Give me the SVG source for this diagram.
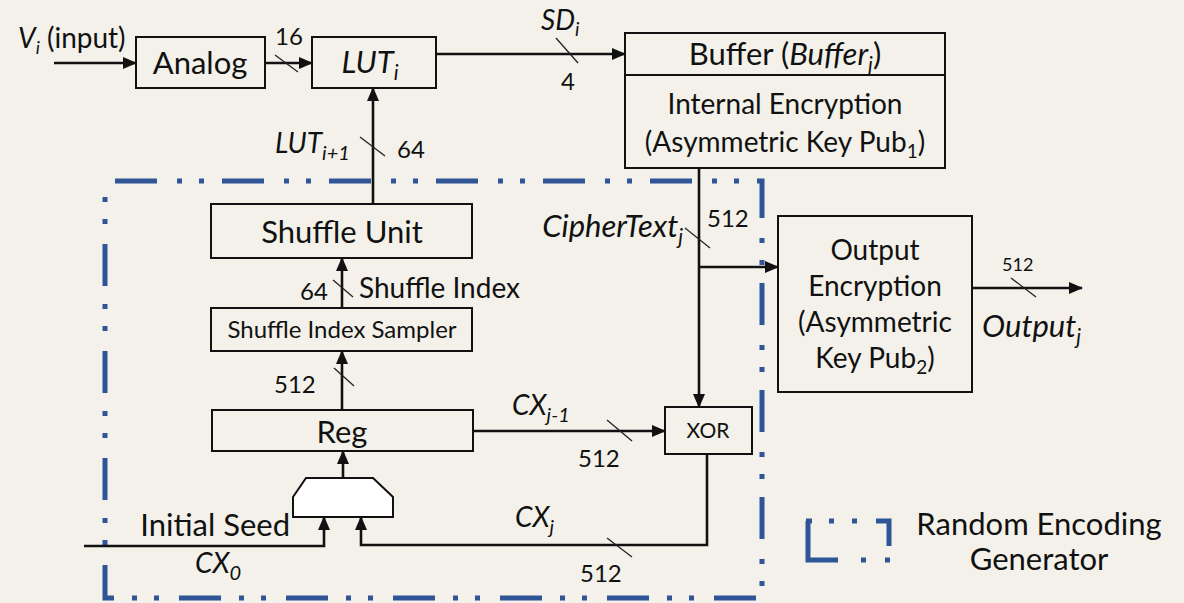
<svg xmlns="http://www.w3.org/2000/svg" width="1184" height="603" viewBox="0 0 1184 603">
<style>
.box{fill:none;stroke:#111;stroke-width:2}
.wbox{fill:#fff;stroke:#111;stroke-width:2}
.ln{fill:none;stroke:#111;stroke-width:2.6}
.sl{stroke:#222;stroke-width:1.3}
text{font-family:Lato,"Liberation Sans",sans-serif;fill:#111}
.n{font-size:24px}
.t{font-size:28px}
.big{font-size:31px}
.it{font-style:italic}
.c{text-anchor:middle}
.e{text-anchor:end}
.blue{fill:none;stroke:#2F5597;stroke-width:5}
</style>
<defs>
<marker id="ah" markerUnits="userSpaceOnUse" markerWidth="14" markerHeight="12" refX="13" refY="6" orient="auto">
<path d="M0,0 L14,6 L0,12 Z" fill="#111"/>
</marker>
</defs>
<rect width="1184" height="603" fill="#f3f1ea"/>

<g id="generator-frame">
<rect class="blue" x="105" y="181" width="657" height="417" stroke-dasharray="42 20 5 17 5 18" stroke-dashoffset="-10"/>
</g>

<g id="analog"><rect class="box" x="136" y="37" width="129" height="51"/><text class="big c" x="200" y="74">Analog</text></g>
<g id="lut"><rect class="box" x="312" y="37" width="124" height="51"/><text class="big c it" x="370" y="73">LUT<tspan font-size="21" dy="7">i</tspan></text></g>
<g id="buffer"><rect class="box" x="625" y="33" width="320" height="135"/><line class="box" x1="625" y1="75" x2="945" y2="75"/>
<text class="big c" x="785" y="65">Buffer (<tspan class="it">Buffer<tspan font-size="21" dy="7">j</tspan></tspan><tspan dy="-7">)</tspan></text>
<text class="t c" x="785" y="114">Internal Encryption</text>
<text class="t c" x="785" y="152">(Asymmetric Key Pub<tspan font-size="19" dy="6">1</tspan><tspan dy="-6">)</tspan></text></g>
<g id="shuffle-unit"><rect class="box" x="211" y="204" width="261" height="54"/><text class="big c" x="342" y="243">Shuffle Unit</text></g>
<g id="sampler"><rect class="box" x="211" y="308" width="261" height="43"/><text class="c" font-size="24" x="342" y="338">Shuffle Index Sampler</text></g>
<g id="reg"><rect class="box" x="212" y="410" width="261" height="41"/><text class="big c" x="342" y="443">Reg</text></g>
<g id="xor"><rect class="box" x="665" y="407" width="87" height="47"/><text class="c" font-size="21" x="708" y="438">XOR</text></g>
<g id="mux"><polygon class="wbox" points="306,478 373,478 393,497 393,517 293,517 293,497"/></g>
<g id="output-enc"><rect class="box" x="778" y="216" width="194" height="176"/>
<text class="t c" x="875" y="260">Output</text>
<text class="t c" x="875" y="296">Encryption</text>
<text class="t c" x="875" y="332">(Asymmetric</text>
<text class="t c" x="875" y="368">Key Pub<tspan font-size="19" dy="6">2</tspan><tspan dy="-6">)</tspan></text></g>

<g id="connectors">
<line class="ln" x1="54" y1="63" x2="136" y2="63" marker-end="url(#ah)"/>
<line class="ln" x1="265" y1="63" x2="312" y2="63" marker-end="url(#ah)"/>
<line class="ln" x1="436" y1="54" x2="625" y2="54" marker-end="url(#ah)"/>
<line class="ln" x1="373" y1="204" x2="373" y2="88" marker-end="url(#ah)"/>
<line class="ln" x1="342" y1="308" x2="342" y2="258" marker-end="url(#ah)"/>
<line class="ln" x1="342" y1="410" x2="342" y2="351" marker-end="url(#ah)"/>
<line class="ln" x1="343" y1="478" x2="343" y2="451" marker-end="url(#ah)"/>
<line class="ln" x1="473" y1="431" x2="665" y2="431" marker-end="url(#ah)"/>
<line class="ln" x1="699" y1="168" x2="699" y2="407" marker-end="url(#ah)"/>
<line class="ln" x1="699" y1="267" x2="778" y2="267" marker-end="url(#ah)"/>
<line class="ln" x1="972" y1="288" x2="1082" y2="288" marker-end="url(#ah)"/>
<path class="ln" d="M707,454 V545 H361 V517" marker-end="url(#ah)"/>
<path class="ln" d="M84,546 H324 V517" marker-end="url(#ah)"/>
<line class="sl" x1="275" y1="55" x2="298" y2="72"/>
<line class="sl" x1="556" y1="38" x2="578" y2="63"/>
<line class="sl" x1="360" y1="137" x2="385" y2="156"/>
<line class="sl" x1="333" y1="280" x2="353" y2="297"/>
<line class="sl" x1="334" y1="368" x2="354" y2="386"/>
<line class="sl" x1="685" y1="228" x2="710" y2="248"/>
<line class="sl" x1="607" y1="420" x2="632" y2="441"/>
<line class="sl" x1="607" y1="538" x2="632" y2="557"/>
<line class="sl" x1="1011" y1="278" x2="1036" y2="297"/>
</g>

<g id="labels">
<text class="t" x="18" y="48"><tspan class="it">V</tspan><tspan class="it" font-size="18" dy="6">i</tspan><tspan dy="-6"> (input)</tspan></text>
<text class="n" x="275" y="45">16</text>
<text class="t it" x="541" y="30">SD<tspan font-size="19" dy="6">i</tspan></text>
<text class="n" x="561" y="90">4</text>
<text class="t it" x="275" y="153">LUT<tspan font-size="20" dy="7">i+1</tspan></text>
<text class="n" x="397" y="158">64</text>
<text class="n" x="300" y="300">64</text>
<text class="t" x="359" y="298">Shuffle Index</text>
<text class="n" x="274" y="393">512</text>
<text class="t it" x="512" y="415">CX<tspan font-size="20" dy="7">j-1</tspan></text>
<text class="n" x="578" y="467">512</text>
<text class="big it e" x="683" y="237">CipherText<tspan font-size="21" dy="7">j</tspan></text>
<text class="n" x="707" y="227">512</text>
<text font-size="18" x="1002" y="271">512</text>
<text class="big it" x="982" y="337">Output<tspan font-size="21" dy="7">j</tspan></text>
<text class="big e" x="290" y="536">Initial Seed</text>
<text class="t it" x="195" y="573">CX<tspan font-size="20" dy="7">0</tspan></text>
<text class="t it" x="515" y="527">CX<tspan font-size="20" dy="7">j</tspan></text>
<text class="n" x="580" y="582">512</text>
</g>

<g id="legend">
<path class="blue" d="M808,521 V560 H838"/>
<path class="blue" d="M806,521 H812 M829,521 H834 M852,521 H857 M876,521 H889 V546 M861,560 H866 M885,560 H890"/>
<text class="big c" x="1039" y="535">Random Encoding</text>
<text class="big c" x="1039" y="570">Generator</text>
</g>
</svg>
